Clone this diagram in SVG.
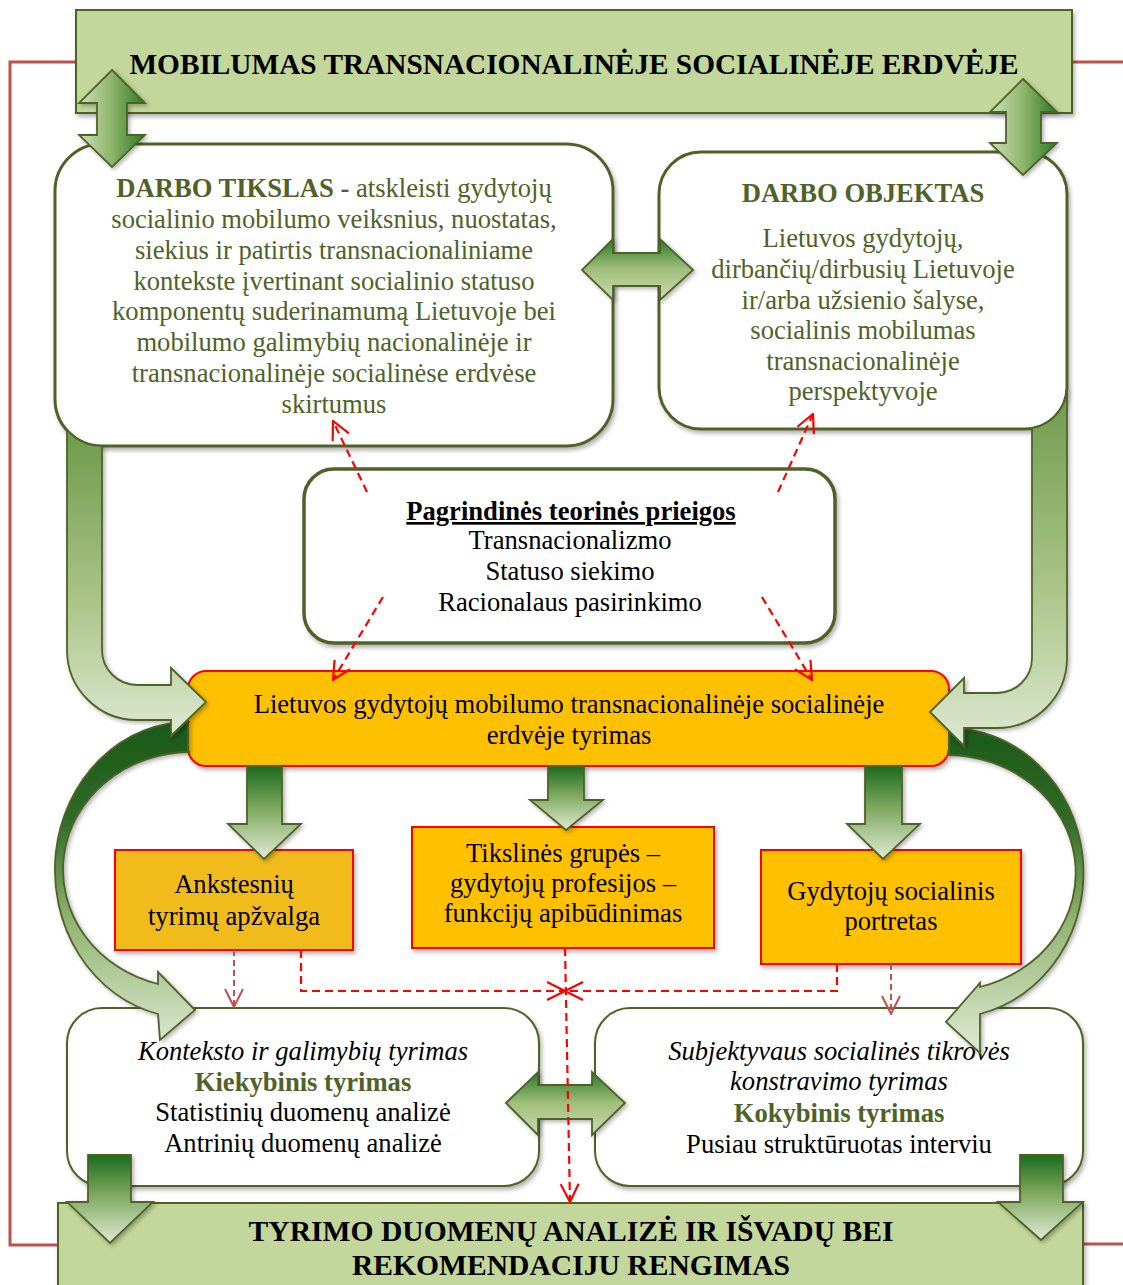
<svg xmlns="http://www.w3.org/2000/svg" width="1123" height="1285" viewBox="0 0 1123 1285">
<defs>
<style>
 text { font-family: 'Liberation Serif', 'Times New Roman', serif; }
 .t { font-size: 26.6px; text-anchor: middle; fill: #000; }
 .g { fill: #4f6228; }
 .b { font-weight: bold; }
 .i { font-style: italic; }
 .hd { font-size: 29.6px; font-weight: bold; text-anchor: middle; fill: #000; }
 .box { fill: #fff; stroke: #4f6228; stroke-width: 3; filter: url(#sh); }
 .thin { stroke-width: 2; }
 .org { fill: #ffc000; stroke: #ff0000; stroke-width: 2; filter: url(#sh); }
 .ban { fill: #c3d69b; stroke: #4f6228; stroke-width: 2; filter: url(#sh); }
 .blk { stroke: #4f6228; stroke-width: 1.8; stroke-linejoin: miter; filter: url(#sh2); }
 .frame { fill: none; stroke: #c0504d; stroke-width: 3; }
 .dash { fill: none; stroke: #ff0000; stroke-width: 2.2; stroke-dasharray: 8 5; marker-end: url(#ah); }
 .dash2 { fill: none; stroke: #c0504d; stroke-width: 2; stroke-dasharray: 6 4; marker-end: url(#ah2); }
</style>
<filter id="sh" x="-10%" y="-10%" width="120%" height="130%">
 <feDropShadow dx="2" dy="3" stdDeviation="2" flood-color="#000" flood-opacity="0.3"/>
</filter>
<filter id="sh2" x="-20%" y="-20%" width="140%" height="140%">
 <feDropShadow dx="2" dy="2" stdDeviation="2" flood-color="#000" flood-opacity="0.3"/>
</filter>
<linearGradient id="gDown" x1="0" y1="0" x2="0" y2="1">
 <stop offset="0" stop-color="#1b6b1f"/>
 <stop offset="0.45" stop-color="#7ea85e"/>
 <stop offset="1" stop-color="#e0ead5"/>
</linearGradient>
<linearGradient id="gBent" x1="0" y1="0" x2="0" y2="1">
 <stop offset="0" stop-color="#6d9a4b"/>
 <stop offset="0.55" stop-color="#a9c486"/>
 <stop offset="1" stop-color="#dde8d1"/>
</linearGradient>
<linearGradient id="gArc" gradientUnits="userSpaceOnUse" x1="0" y1="722" x2="0" y2="1045">
 <stop offset="0" stop-color="#1a5918"/>
 <stop offset="0.3" stop-color="#2f6b27"/>
 <stop offset="0.62" stop-color="#92b572"/>
 <stop offset="1" stop-color="#dbe7cf"/>
</linearGradient>
<linearGradient id="gH" x1="0" y1="0" x2="0" y2="1">
 <stop offset="0" stop-color="#2a7a26"/>
 <stop offset="0.5" stop-color="#a2bf7c"/>
 <stop offset="1" stop-color="#c9dbb1"/>
</linearGradient>
<linearGradient id="gV" x1="0" y1="0" x2="1" y2="0">
 <stop offset="0" stop-color="#cfe0b8"/>
 <stop offset="0.5" stop-color="#8db46a"/>
 <stop offset="1" stop-color="#2b7b27"/>
</linearGradient>
<marker id="ah" markerUnits="userSpaceOnUse" viewBox="0 0 20 20" refX="19" refY="10" markerWidth="20" markerHeight="20" orient="auto">
 <path d="M1,1 L19,10 L1,19" fill="none" stroke="#ff0000" stroke-width="2.2"/>
</marker>
<marker id="ah2" markerUnits="userSpaceOnUse" viewBox="0 0 20 20" refX="19" refY="10" markerWidth="20" markerHeight="20" orient="auto">
 <path d="M1,1 L19,10 L1,19" fill="none" stroke="#c0504d" stroke-width="2"/>
</marker>
</defs>

<rect width="1123" height="1285" fill="#fff"/>

<!-- outer feedback frame -->
<g id="frame">
 <path class="frame" d="M76,62 H10 V1245 H58"/>
 <path class="frame" d="M1072,62 H1123"/>
 <path class="frame" d="M1083,1244 H1123"/>
</g>

<!-- nodes -->
<g id="n-title">
 <rect class="ban" x="76" y="10" width="996" height="103"/>
 <text class="hd" x="574" y="74" style="font-size:29.3px">MOBILUMAS TRANSNACIONALINĖJE SOCIALINĖJE ERDVĖJE</text>
</g>

<g id="n-goal">
 <rect class="box" x="55" y="144" width="558" height="302" rx="47"/>
 <text class="t g" x="334" y="197"><tspan class="b">DARBO TIKSLAS -</tspan> atskleisti gydytojų</text>
 <text class="t g" x="334" y="228">socialinio mobilumo veiksnius, nuostatas,</text>
 <text class="t g" x="334" y="259">siekius ir patirtis transnacionaliniame</text>
 <text class="t g" x="334" y="290">kontekste įvertinant socialinio statuso</text>
 <text class="t g" x="334" y="320">komponentų suderinamumą Lietuvoje bei</text>
 <text class="t g" x="334" y="351">mobilumo galimybių nacionalinėje ir</text>
 <text class="t g" x="334" y="382">transnacionalinėje socialinėse erdvėse</text>
 <text class="t g" x="334" y="413">skirtumus</text>
</g>

<g id="n-object">
 <rect class="box" x="659" y="152" width="408" height="277" rx="42"/>
 <text class="t g b" x="863" y="202">DARBO OBJEKTAS</text>
 <text class="t g" x="863" y="247">Lietuvos gydytojų,</text>
 <text class="t g" x="863" y="278">dirbančių/dirbusių Lietuvoje</text>
 <text class="t g" x="863" y="309">ir/arba užsienio šalyse,</text>
 <text class="t g" x="863" y="339">socialinis mobilumas</text>
 <text class="t g" x="863" y="370">transnacionalinėje</text>
 <text class="t g" x="863" y="400">perspektyvoje</text>
</g>

<g id="n-theory">
 <rect class="box" x="304" y="469" width="531" height="174" rx="30" style="stroke-width:3.5"/>
 <text class="t b" x="571" y="520" text-decoration="underline">Pagrindinės teorinės prieigos</text>
 <text class="t" x="570" y="549">Transnacionalizmo</text>
 <text class="t" x="570" y="580">Statuso siekimo</text>
 <text class="t" x="570" y="611">Racionalaus pasirinkimo</text>
</g>

<g id="n-research">
 <rect class="org" x="188" y="671" width="761" height="95" rx="18"/>
 <text class="t" x="569" y="713">Lietuvos gydytojų mobilumo transnacionalinėje socialinėje</text>
 <text class="t" x="569" y="744">erdvėje tyrimas</text>
</g>

<g id="n-review">
 <rect class="org" x="115" y="850" width="238" height="100" style="fill:#f1bb1c"/>
 <text class="t" x="234" y="893">Ankstesnių</text>
 <text class="t" x="234" y="925">tyrimų apžvalga</text>
</g>

<g id="n-groups">
 <rect class="org" x="412" y="827" width="302" height="121"/>
 <text class="t" x="563" y="862">Tikslinės grupės –</text>
 <text class="t" x="563" y="892">gydytojų profesijos –</text>
 <text class="t" x="563" y="922">funkcijų apibūdinimas</text>
</g>

<g id="n-portrait">
 <rect class="org" x="761" y="850" width="260" height="114"/>
 <text class="t" x="891" y="900">Gydytojų socialinis</text>
 <text class="t" x="891" y="930">portretas</text>
</g>

<g id="n-quant">
 <rect class="box thin" x="67" y="1008" width="472" height="178" rx="35"/>
 <text class="t i" x="303" y="1060">Konteksto ir galimybių tyrimas</text>
 <text class="t g b" x="303" y="1091">Kiekybinis tyrimas</text>
 <text class="t" x="303" y="1121">Statistinių duomenų analizė</text>
 <text class="t" x="303" y="1152">Antrinių duomenų analizė</text>
</g>

<g id="n-qual">
 <rect class="box thin" x="595" y="1008" width="488" height="178" rx="35"/>
 <text class="t i" x="839" y="1060">Subjektyvaus socialinės tikrovės</text>
 <text class="t i" x="839" y="1090">konstravimo tyrimas</text>
 <text class="t g b" x="839" y="1122">Kokybinis tyrimas</text>
 <text class="t" x="839" y="1153">Pusiau struktūruotas interviu</text>
</g>

<g id="n-analysis">
 <rect class="ban" x="58" y="1203" width="1025" height="95"/>
 <text class="hd" x="571" y="1241">TYRIMO DUOMENŲ ANALIZĖ IR IŠVADŲ BEI</text>
 <text class="hd" x="571" y="1275">REKOMENDACIJU RENGIMAS</text>
</g>

<!-- connectors -->
<g id="connectors">
 <!-- curved arrows around the research block -->
 <path class="blk" fill="url(#gArc)" d="M188,722 L190,722 A134,148 0 0 0 158,1014 L160,1040 L195,1010 L158,972 L158,984 A128,118 0 0 1 190,752 L188,752 Z"/>
 <path class="blk" fill="url(#gArc)" d="M949,728 L948,728 A135,145 0 0 1 980,1014 L980,1053 L946,1022 L980,983 L980,987 A129,118 0 0 0 948,755 L949,755 Z"/>

 <!-- bent arrows from the goal and object blocks -->
 <path class="blk" fill="url(#gBent)" d="M67,430 A47,47 0 0 0 102,446 V650 A35,35 0 0 0 137,685 H171 V668 L206,702 L171,736 V720 H137 A70,70 0 0 1 67,650 Z"/>
 <path class="blk" fill="url(#gBent)" d="M1067,387 A42,42 0 0 1 1032,428 V658 A35,35 0 0 1 997,693 H964 V678 L930,712 L964,746 V728 H997 A70,70 0 0 0 1067,658 Z"/>

 <!-- vertical two-way arrows under the title -->
 <path class="blk" fill="url(#gV)" d="M112,70 L145,103 H127 V135 H145 L112,167 L79,135 H97 V103 H79 Z"/>
 <path class="blk" fill="url(#gV)" d="M1023,79 L1057,112 H1041 V143 H1057 L1023,175 L990,143 H1006 V112 H990 Z"/>

 <!-- horizontal two-way arrows -->
 <path class="blk" fill="url(#gH)" d="M582,270 L613,239 V253 H660 V239 L693,270 L660,300 V286 H613 V300 Z"/>
 <path class="blk" fill="url(#gH)" d="M506,1103 L538,1072 V1085 H592 V1072 L625,1103 L592,1135 V1119 H538 V1135 Z"/>

 <!-- down arrows from the research block -->
 <path class="blk" fill="url(#gDown)" d="M247,766 V824 H228 L264,859 L301,824 H282 V766 Z"/>
 <path class="blk" fill="url(#gDown)" d="M548,766 V800 H530 L566,830 L603,800 H584 V766 Z"/>
 <path class="blk" fill="url(#gDown)" d="M865,766 V824 H847 L883,859 L920,824 H902 V766 Z"/>

 <!-- down arrows into the analysis block -->
 <path class="blk" fill="url(#gDown)" d="M88,1155 V1202 H67 L110,1243 L153,1202 H131 V1155 Z"/>
 <path class="blk" fill="url(#gDown)" d="M1020,1155 V1202 H998 L1041,1240 L1083,1202 H1063 V1155 Z"/>

 <!-- dashed links of the theory block -->
 <path class="dash" d="M367,492 L333,421"/>
 <path class="dash" d="M778,492 L813,414"/>
 <path class="dash" d="M383,597 L333,680"/>
 <path class="dash" d="M762,597 L812,680"/>

 <!-- dashed links between the three parts -->
 <path class="dash" d="M301,950 V991 H565"/>
 <path class="dash" d="M837,964 V991 H565"/>
 <path class="dash" d="M565,948 L570,1202"/>

 <path class="dash2" d="M234,950 V1007"/>
 <path class="dash2" d="M891,964 V1014"/>
</g>
</svg>
